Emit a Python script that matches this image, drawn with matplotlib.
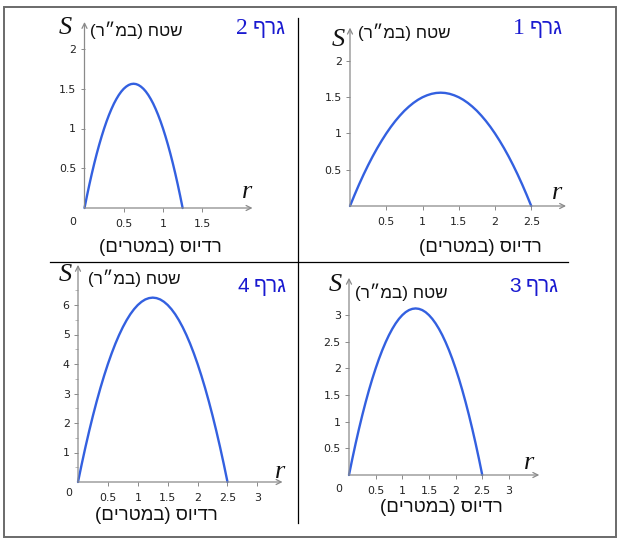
import matplotlib
matplotlib.use("Agg")
import matplotlib.pyplot as plt
from matplotlib.lines import Line2D
from matplotlib.patches import Rectangle

# ---------------- data ----------------
r_g1 = [0, 0.0625, 0.125, 0.1875, 0.25, 0.3125, 0.375, 0.4375, 0.5, 0.5625,
        0.625, 0.6875, 0.75, 0.8125, 0.875, 0.9375, 1.0, 1.0625, 1.125, 1.1875,
        1.25, 1.3125, 1.375, 1.4375, 1.5, 1.5625, 1.625, 1.6875, 1.75, 1.8125,
        1.875, 1.9375, 2.0, 2.0625, 2.125, 2.1875, 2.25, 2.3125, 2.375, 2.4375, 2.5]
S_g1 = [0, 0.152, 0.297, 0.434, 0.563, 0.684, 0.797, 0.902, 1.0, 1.09,
        1.172, 1.246, 1.313, 1.371, 1.422, 1.465, 1.5, 1.527, 1.547, 1.559,
        1.563, 1.559, 1.547, 1.527, 1.5, 1.465, 1.422, 1.371, 1.313, 1.246,
        1.172, 1.09, 1.0, 0.902, 0.797, 0.684, 0.563, 0.434, 0.297, 0.152, 0]

r_g2 = [0, 0.03125, 0.0625, 0.09375, 0.125, 0.15625, 0.1875, 0.21875, 0.25, 0.28125,
        0.3125, 0.34375, 0.375, 0.40625, 0.4375, 0.46875, 0.5, 0.53125, 0.5625, 0.59375,
        0.625, 0.65625, 0.6875, 0.71875, 0.75, 0.78125, 0.8125, 0.84375, 0.875, 0.90625,
        0.9375, 0.96875, 1.0, 1.03125, 1.0625, 1.09375, 1.125, 1.15625, 1.1875, 1.21875, 1.25]
S_g2 = [0, 0.152, 0.297, 0.434, 0.563, 0.684, 0.797, 0.902, 1.0, 1.09,
        1.172, 1.246, 1.313, 1.371, 1.422, 1.465, 1.5, 1.527, 1.547, 1.559,
        1.563, 1.559, 1.547, 1.527, 1.5, 1.465, 1.422, 1.371, 1.313, 1.246,
        1.172, 1.09, 1.0, 0.902, 0.797, 0.684, 0.563, 0.434, 0.297, 0.152, 0]

r_g3 = [0, 0.0625, 0.125, 0.1875, 0.25, 0.3125, 0.375, 0.4375, 0.5, 0.5625,
        0.625, 0.6875, 0.75, 0.8125, 0.875, 0.9375, 1.0, 1.0625, 1.125, 1.1875,
        1.25, 1.3125, 1.375, 1.4375, 1.5, 1.5625, 1.625, 1.6875, 1.75, 1.8125,
        1.875, 1.9375, 2.0, 2.0625, 2.125, 2.1875, 2.25, 2.3125, 2.375, 2.4375, 2.5]
S_g3 = [0, 0.305, 0.594, 0.867, 1.125, 1.367, 1.594, 1.805, 2.0, 2.18,
        2.344, 2.492, 2.625, 2.742, 2.844, 2.93, 3.0, 3.055, 3.094, 3.117,
        3.125, 3.117, 3.094, 3.055, 3.0, 2.93, 2.844, 2.742, 2.625, 2.492,
        2.344, 2.18, 2.0, 1.805, 1.594, 1.367, 1.125, 0.867, 0.594, 0.305, 0]

r_g4 = [0, 0.0625, 0.125, 0.1875, 0.25, 0.3125, 0.375, 0.4375, 0.5, 0.5625,
        0.625, 0.6875, 0.75, 0.8125, 0.875, 0.9375, 1.0, 1.0625, 1.125, 1.1875,
        1.25, 1.3125, 1.375, 1.4375, 1.5, 1.5625, 1.625, 1.6875, 1.75, 1.8125,
        1.875, 1.9375, 2.0, 2.0625, 2.125, 2.1875, 2.25, 2.3125, 2.375, 2.4375, 2.5]
S_g4 = [0, 0.609, 1.188, 1.734, 2.25, 2.734, 3.188, 3.609, 4.0, 4.359,
        4.688, 4.984, 5.25, 5.484, 5.688, 5.859, 6.0, 6.109, 6.188, 6.234,
        6.25, 6.234, 6.188, 6.109, 6.0, 5.859, 5.688, 5.484, 5.25, 4.984,
        4.688, 4.359, 4.0, 3.609, 3.188, 2.734, 2.25, 1.734, 1.188, 0.609, 0]

xticks_g1 = [0.5, 1, 1.5, 2, 2.5]
yticks_g1 = [0.5, 1, 1.5, 2]
xticks_g2 = [0.5, 1, 1.5]
yticks_g2 = [0.5, 1, 1.5, 2]
xticks_g3 = [0.5, 1, 1.5, 2, 2.5, 3]
yticks_g3 = [0.5, 1, 1.5, 2, 2.5, 3]
xticks_g4 = [0.5, 1, 1.5, 2, 2.5, 3]
yticks_g4 = [1, 2, 3, 4, 5, 6]
yminor_g4 = [0.5, 1.5, 2.5, 3.5, 4.5, 5.5, 6.5]

# Hebrew text written in visual (left-to-right) order
title_word = "ףרג"
title_nums = {"g1": "1", "g2": "2", "g3": "3", "g4": "4"}
ylabel_text = "(ר\u05f4מב) חטש"
xlabel_text = "(םירטמב) סוידר"

# ---------------- figure ----------------
W, H = 624, 543
fig = plt.figure(figsize=(W / 100, H / 100), dpi=100)
fig.patch.set_facecolor("white")

def fx(x):
    return x / W

def fy(y):
    return 1 - y / H

HEB = ["Liberation Sans", "DejaVu Sans"]
SERIF = ["Liberation Serif", "DejaVu Serif"]
CURVE = "#3360e0"
TITLE = "#1a1ad0"
AX = "#8a8a8a"

# border and dividers
fig.add_artist(Rectangle((fx(4), fy(537)), fx(612), (537 - 7) / H,
                         transform=fig.transFigure, fill=False,
                         edgecolor="#6a6a6a", lw=1.4))
fig.add_artist(Line2D([fx(298), fx(298)], [fy(18), fy(523)],
                      transform=fig.transFigure, color="black", lw=0.9))
fig.add_artist(Line2D([fx(50), fx(568)], [fy(262), fy(262)],
                      transform=fig.transFigure, color="black", lw=0.9))

def panel(r, S, xt, yt, x0, y0, xu, yu, xmax, ymax, key, num_font,
          title_pos, ylab_pos, s_pos, r_pos, xlab_pos, zero_pos=None,
          yminor=None):
    ax = fig.add_axes([fx(x0), fy(y0), xmax * xu / W, ymax * yu / H])
    ax.set_xlim(0, xmax)
    ax.set_ylim(0, ymax)
    ax.patch.set_alpha(0)
    for sp in ax.spines.values():
        sp.set_visible(False)
    ax.plot(r, S, color=CURVE, lw=1.7, solid_capstyle="round",
            solid_joinstyle="round", clip_on=False)
    # axes arrows
    for tip in [(xmax, 0), (0, ymax)]:
        ax.annotate("", xy=tip, xytext=(0, 0),
                    arrowprops=dict(arrowstyle="->", color=AX, lw=0.9,
                                    shrinkA=0, shrinkB=0, mutation_scale=9),
                    annotation_clip=False)
    ax.set_xticks(xt)
    ax.set_yticks(yt)
    ax.set_xticklabels([f"{v:g}" for v in xt])
    ax.set_yticklabels([f"{v:g}" for v in yt])
    if yminor:
        ax.set_yticks(yminor, minor=True)
        ax.tick_params(axis="y", which="minor", length=2, color="#b0b0b0",
                       direction="out")
    ax.tick_params(axis="both", which="major", length=3, width=0.7,
                   color=AX, direction="out", labelsize=7.9,
                   labelcolor="#222222", pad=3)
    ax.tick_params(axis="x", pad=5)
    # title: Hebrew word (sans) right, number left
    t = fig.text(fx(title_pos[0]), fy(title_pos[1]), title_word, color=TITLE,
                 fontsize=15, family=HEB, ha="right", va="center")
    fig.canvas.draw()
    bb = t.get_window_extent()
    fig.text(bb.x0 / W - fx(5), fy(title_pos[1]), title_nums[key], color=TITLE,
             fontsize=17 if num_font is SERIF else 15, family=num_font,
             ha="right", va="center")
    fig.text(fx(ylab_pos[0]), fy(ylab_pos[1]), ylabel_text, color="#111111",
             fontsize=12.3, family=HEB, ha="left", va="center")
    fig.text(fx(s_pos[0]), fy(s_pos[1]), "S", color="#111111", fontsize=19,
             family=SERIF, style="italic", ha="center", va="center")
    fig.text(fx(r_pos[0]), fy(r_pos[1]), "r", color="#111111", fontsize=19,
             family=SERIF, style="italic", ha="center", va="center")
    fig.text(fx(xlab_pos[0]), fy(xlab_pos[1]), xlabel_text, color="#111111",
             fontsize=13.3, family=HEB, ha="center", va="center")
    if zero_pos:
        fig.text(fx(zero_pos[0]), fy(zero_pos[1]), "0", color="#222222",
                 fontsize=7.9, family="DejaVu Sans", ha="center", va="center")
    return ax

# Graph 2 (top-left)
panel(r_g2, S_g2, xticks_g2, yticks_g2, 84.5, 208, 78.5, 79.5, 2.14, 2.34, "g2",
      SERIF, (286, 29), (90, 30), (65, 28), (247, 192), (160, 247),
      zero_pos=(73, 222))
# Graph 1 (top-right)
panel(r_g1, S_g1, xticks_g1, yticks_g1, 350, 206, 72.5, 72.5, 2.98, 2.46, "g1",
      SERIF, (563, 28), (358, 32), (338, 40), (557, 193), (480, 247))
# Graph 4 (bottom-left)
panel(r_g4, S_g4, xticks_g4, yticks_g4, 78, 482, 59.8, 29.5, 3.42, 7.36, "g4",
      HEB, (287, 287), (88, 278), (65, 275), (280, 472), (156, 515),
      zero_pos=(69, 493), yminor=yminor_g4)
# Graph 3 (bottom-right)
panel(r_g3, S_g3, xticks_g3, yticks_g3, 349, 475, 53.3, 53.3, 3.57, 3.7, "g3",
      HEB, (559, 287), (355, 292), (335, 285), (529, 463), (441, 508),
      zero_pos=(339, 489))

fig.savefig("out.png", dpi=100, facecolor="white")
